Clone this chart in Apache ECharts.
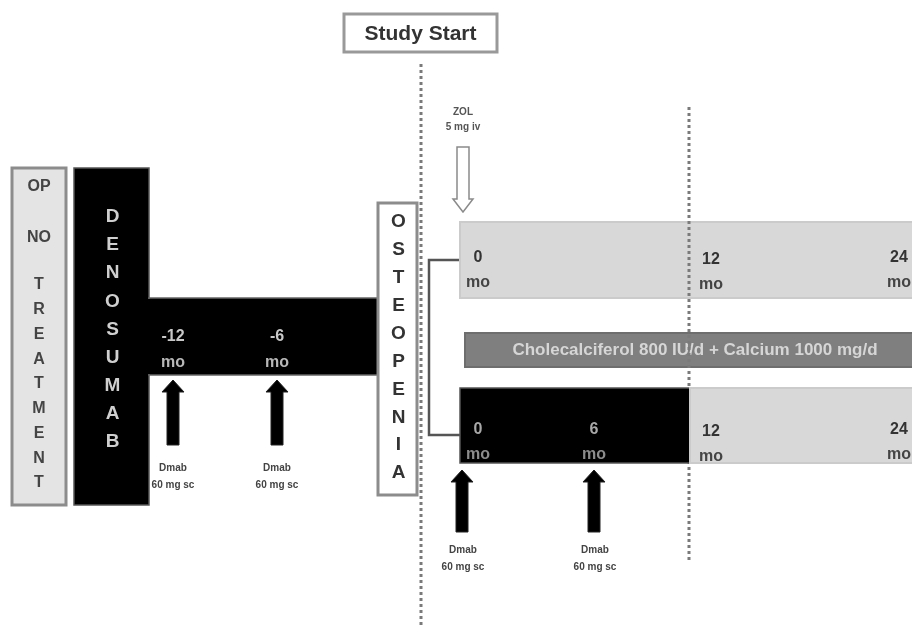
<!DOCTYPE html>
<html>
<head>
<meta charset="utf-8">
<script src="https://cdn.jsdelivr.net/npm/echarts@6/dist/echarts.min.js"></script>
<style>
html,body{margin:0;padding:0;background:#fff;}
#chart{width:912px;height:628px;}
</style>
</head>
<body>
<div id="chart"></div>
<script>
// ---------------- DATA ----------------
const studyTitle = 'Study Start';
const noTreatmentLabel = ['OP', 'NO', 'TREATMENT'];
const preTreatmentLabel = 'DENOSUMAB';
const conditionLabel = 'OSTEOPENIA';
const preStudyMonths = [-12, -6];
const preStudyDoses = [
  { drug: 'Dmab', dose: '60 mg sc', month: -12 },
  { drug: 'Dmab', dose: '60 mg sc', month: -6 }
];
const zolArmMonths = [0, 12, 24];
const zolArmPhases = [{ from: 0, to: 24, onDenosumab: false }];
const zolArmDoses = [{ drug: 'ZOL', dose: '5 mg iv', month: 0 }];
const dmabArmMonths = [0, 6, 12, 24];
const dmabArmPhases = [
  { from: 0, to: 12, onDenosumab: true },
  { from: 12, to: 24, onDenosumab: false }
];
const dmabArmDoses = [
  { drug: 'Dmab', dose: '60 mg sc', month: 0 },
  { drug: 'Dmab', dose: '60 mg sc', month: 6 }
];
const supplement = { text: 'Cholecalciferol 800 IU/d + Calcium 1000 mg/d', from: 0, to: 24 };
const milestoneMonths = [12];

// ---------------- LAYOUT (diagram units) ----------------
const L = {
  monthX: m => 460 + m * 230 / 12,
  preLabelX: { '-12': 173, '-6': 277 },
  armLabelX: { 0: 478, 6: 594, 12: 711, 24: 899 },
  armArrowX: { 0: 462, 6: 594 },
  titleBox: [344, 14, 497, 52],
  startLine: [421, 64, 628],
  milestoneLine: [107, 563],
  opBox: [12, 168, 66, 505],
  denoBox: [74, 168, 149, 505],
  preBar: [149, 298, 378, 375],
  osteoBox: [378, 203, 417, 495],
  zolRow: [222, 298],
  dmabRow: [388, 463],
  supRow: [333, 367],
  bracket: [429, 260, 435]
};

const FONT = '"Liberation Sans", Arial, Helvetica, sans-serif';
function rect(api, x0, y0, x1, y1) {
  const a = api.coord([x0, y0]), b = api.coord([x1, y1]);
  return { x: Math.min(a[0], b[0]), y: Math.min(a[1], b[1]), width: Math.abs(b[0] - a[0]), height: Math.abs(b[1] - a[1]) };
}
function txt(api, x, y, text, size, fill, align) {
  const p = api.coord([x, y]);
  return { type: 'text', style: { text: text, x: p[0], y: p[1], fill: fill, fontSize: size, fontWeight: 'bold', fontFamily: FONT, align: align || 'center', verticalAlign: 'middle', textAlign: align || 'center', textVerticalAlign: 'middle' } };
}
function upArrow(api, x, tipY, botY, color) {
  const t = api.coord([x, tipY]), b = api.coord([x, botY]);
  const hw = 11, sw = 6, hh = 12;
  return { type: 'polygon', shape: { points: [[t[0], t[1]], [t[0] + hw, t[1] + hh], [t[0] + sw, t[1] + hh], [t[0] + sw, b[1]], [t[0] - sw, b[1]], [t[0] - sw, t[1] + hh], [t[0] - hw, t[1] + hh]] }, style: { fill: color, stroke: '#222', lineWidth: 1 } };
}
function downHollowArrow(api, x, topY, tipY) {
  const t = api.coord([x, topY]), b = api.coord([x, tipY]);
  const hw = 10, sw = 6, hh = 13;
  return { type: 'polygon', shape: { points: [[b[0], b[1]], [b[0] - hw, b[1] - hh], [b[0] - sw, b[1] - hh], [b[0] - sw, t[1]], [b[0] + sw, t[1]], [b[0] + sw, b[1] - hh], [b[0] + hw, b[1] - hh]] }, style: { fill: '#fff', stroke: '#8a8a8a', lineWidth: 1.5 } };
}
function dotted(api, x, y0, y1) {
  const a = api.coord([x, y0]), b = api.coord([x, y1]);
  return { type: 'line', shape: { x1: a[0], y1: a[1], x2: b[0], y2: b[1] }, style: { stroke: '#7a7a7a', lineWidth: 3, lineDash: [3, 3] } };
}
function vertical(api, cx, y0, step, letters, size, fill) {
  return letters.split('').map((ch, i) => txt(api, cx, y0 + i * step, ch, size, fill));
}

// left block
function renderLeft(params, api) {
  const ch = [];
  const o = L.opBox;
  ch.push({ type: 'rect', shape: rect(api, o[0], o[1], o[2], o[3]), style: { fill: '#e4e4e4', stroke: '#8c8c8c', lineWidth: 3 } });
  const cx = (o[0] + o[2]) / 2;
  ch.push(txt(api, cx, 187, noTreatmentLabel[0], 16, '#444'));
  ch.push(txt(api, cx, 238, noTreatmentLabel[1], 16, '#444'));
  ch.push(...vertical(api, cx, 285, 24.75, noTreatmentLabel[2], 16, '#444'));
  const d = L.denoBox, p = L.preBar;
  ch.push({ type: 'rect', shape: rect(api, d[0], d[1], d[2], d[3]), style: { fill: '#000', stroke: '#555', lineWidth: 1.5 } });
  ch.push({ type: 'rect', shape: rect(api, p[0], p[1], p[2], p[3]), style: { fill: '#000', stroke: '#666', lineWidth: 1.5 } });
  ch.push({ type: 'rect', shape: rect(api, d[0] + 1, p[1] + 1, d[2] + 3, p[3] - 1), style: { fill: '#000' } });
  ch.push(...vertical(api, (d[0] + d[2]) / 2 + 1, 217, 28.1, preTreatmentLabel, 19, '#cfcfcf'));
  preStudyMonths.forEach(m => {
    const x = L.preLabelX[m];
    ch.push(txt(api, x, 337, String(m), 16, '#c8c8c8'));
    ch.push(txt(api, x, 363, 'mo', 16, '#b8b8b8'));
  });
  preStudyDoses.forEach(ds => {
    const x = L.preLabelX[ds.month];
    ch.push(upArrow(api, x, 380, 445, '#000'));
    ch.push(txt(api, x, 468, ds.drug, 10, '#444'));
    ch.push(txt(api, x, 485, ds.dose, 10, '#444'));
  });
  const s = L.osteoBox;
  ch.push({ type: 'rect', shape: rect(api, s[0], s[1], s[2], s[3]), style: { fill: '#fff', stroke: '#8c8c8c', lineWidth: 3 } });
  ch.push(...vertical(api, (s[0] + s[2]) / 2 + 1, 222, 27.9, conditionLabel, 19, '#333'));
  return { type: 'group', children: ch };
}

// title, study-start line, bracket
function renderFrame(params, api) {
  const ch = [];
  const t = L.titleBox;
  ch.push({ type: 'rect', shape: rect(api, t[0], t[1], t[2], t[3]), style: { fill: '#fff', stroke: '#999', lineWidth: 3 } });
  ch.push(txt(api, (t[0] + t[2]) / 2, (t[1] + t[3]) / 2 + 1, studyTitle, 21, '#333'));
  ch.push(dotted(api, L.startLine[0], L.startLine[1], L.startLine[2]));
  const b = L.bracket;
  const pts = [[460, b[1]], [b[0], b[1]], [b[0], b[2]], [460, b[2]]].map(q => api.coord(q));
  ch.push({ type: 'polyline', shape: { points: pts }, style: { stroke: '#555', lineWidth: 2.5, fill: null } });
  return { type: 'group', children: ch };
}

function renderMilestones(params, api) {
  return { type: 'group', children: milestoneMonths.map(m => dotted(api, L.monthX(m) - 1, L.milestoneLine[0], L.milestoneLine[1])) };
}

function renderArm(phases, months, doses, row, labelBase, arrowRow, hollow) {
  return function (params, api) {
    const ch = [];
    phases.forEach(ph => {
      ch.push({ type: 'rect', shape: rect(api, L.monthX(ph.from), row[0], L.monthX(ph.to), row[1]),
        style: ph.onDenosumab ? { fill: '#000', stroke: '#555', lineWidth: 1.5 } : { fill: '#d8d8d8', stroke: '#cbcbcb', lineWidth: 2 } });
    });
    months.forEach(m => {
      const inBlack = phases.some(ph => ph.onDenosumab && m >= ph.from && m < ph.to);
      const x = L.armLabelX[m];
      const off = m === 12 ? 2 : 0;
      ch.push(txt(api, x, labelBase + off, String(m), 16, inBlack ? '#a8a8a8' : '#333'));
      ch.push(txt(api, x, labelBase + 25 + off, 'mo', 16, inBlack ? '#8c8c8c' : '#444'));
    });
    doses.forEach(ds => {
      const x = L.armArrowX[ds.month];
      if (hollow) {
        ch.push(txt(api, x + 1, 112, ds.drug, 10, '#555'));
        ch.push(txt(api, x + 1, 127, ds.dose, 10, '#555'));
        ch.push(downHollowArrow(api, x + 1, 147, 212));
      } else {
        ch.push(upArrow(api, x, arrowRow[0], arrowRow[1], '#000'));
        ch.push(txt(api, x + 1, arrowRow[1] + 18, ds.drug, 10, '#444'));
        ch.push(txt(api, x + 1, arrowRow[1] + 35, ds.dose, 10, '#444'));
      }
    });
    return { type: 'group', children: ch };
  };
}

function renderSupplement(params, api) {
  const r = L.supRow;
  const x0 = L.monthX(supplement.from) + 5, x1 = L.monthX(supplement.to);
  return { type: 'group', children: [
    { type: 'rect', shape: rect(api, x0, r[0], x1, r[1]), style: { fill: '#7f7f7f', stroke: '#6e6e6e', lineWidth: 2 } },
    txt(api, 695, (r[0] + r[1]) / 2, supplement.text, 17, '#d6d6d6')
  ] };
}

const chart = echarts.init(document.getElementById('chart'));
chart.setOption({
  animation: false,
  backgroundColor: '#fff',
  grid: { left: 0, right: 0, top: 0, bottom: 0 },
  xAxis: { type: 'value', min: 0, max: 912, show: false },
  yAxis: { type: 'value', min: 0, max: 628, inverse: true, show: false },
  series: [
    { type: 'custom', silent: true, data: [[0, 0]], renderItem: renderFrame, clip: false },
    { type: 'custom', silent: true, data: [[0, 0]], renderItem: renderArm(zolArmPhases, zolArmMonths, zolArmDoses, L.zolRow, 258, null, true), clip: false },
    { type: 'custom', silent: true, data: [[0, 0]], renderItem: renderSupplement, clip: false },
    { type: 'custom', silent: true, data: [[0, 0]], renderItem: renderMilestones, clip: false },
    { type: 'custom', silent: true, data: [[0, 0]], renderItem: renderArm(dmabArmPhases, dmabArmMonths, dmabArmDoses, L.dmabRow, 430, [470, 532], false), clip: false },
    { type: 'custom', silent: true, data: [[0, 0]], renderItem: renderLeft, clip: false }
  ]
});
</script>
</body>
</html>
